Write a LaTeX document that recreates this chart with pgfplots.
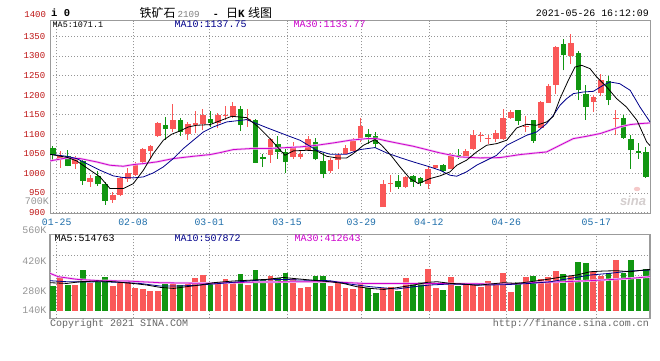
\documentclass[border=0pt]{standalone}
\usepackage{fontspec}
\usepackage{pgfplots}
\usepackage{pgfplotstable}
\pgfplotsset{compat=1.18}
\setmainfont{Liberation Mono}
\newfontfamily\mono{Liberation Mono}
\newfontfamily\cjk{Noto Sans CJK SC}
\newfontfamily\sans{Liberation Sans}
\definecolor{upred}{RGB}{250,88,88}
\definecolor{dngreen}{RGB}{17,150,17}
\definecolor{maten}{RGB}{0,0,140}
\definecolor{mathirty}{RGB}{204,0,204}
\definecolor{mahalo}{RGB}{242,190,242}
\definecolor{pricelbl}{RGB}{190,20,20}
\definecolor{datelbl}{RGB}{30,110,170}
\definecolor{gridc}{RGB}{150,150,150}
\definecolor{framec}{RGB}{155,155,155}
\definecolor{vollbl}{RGB}{150,150,150}
\definecolor{copyc}{RGB}{100,100,100}
\definecolor{sinaeye}{RGB}{245,200,200}
\definecolor{sinatext}{RGB}{212,206,206}

\pgfplotstableread{
i o h l c
1 1036 1057 1015 1044
3 1025 1044 1012 1040
5 978 995 966 988
8 933 953 925 946
9 946 991 942 987
10 985 1014 978 1000
11 997 1029 994 1025
12 1029 1065 1025 1061
13 1057 1072 1038 1069
14 1095 1131 1094 1129
16 1113 1176 1106 1136
18 1100 1130 1086 1125
19 1124 1159 1102 1128
20 1125 1164 1110 1148
22 1129 1153 1115 1150
23 1146 1171 1137 1149
24 1147 1182 1142 1171
26 1137 1165 1119 1140
29 1048 1091 1027 1089
32 1042 1079 1038 1066
33 1042 1057 1036 1049
34 1059 1095 1057 1087
37 1006 1040 1001 1035
38 1034 1052 1012 1048
39 1050 1072 1049 1065
40 1056 1091 1055 1085
41 1085 1142 1080 1120
44 914 984 914 972
45 973 995 953 976
47 966 993 963 991
50 972 1017 961 1012
51 1015 1022 1012 1021
53 1012 1051 1010 1045
55 1042 1063 1040 1057
56 1063 1110 1059 1097
57 1096 1106 1080 1099
58 1088 1097 1076 1091
59 1089 1110 1080 1102
60 1089 1164 1086 1142
61 1142 1161 1140 1157
63 1119 1146 1106 1122
65 1117 1185 1114 1182
66 1180 1228 1180 1222
67 1227 1325 1204 1323
69 1300 1355 1279 1334
72 1182 1199 1157 1195
73 1205 1253 1197 1239
75 1139 1161 1097 1142
}\redtab

\pgfplotstableread{
i o h l c
0 1066 1069 1035 1046
2 1044 1059 1018 1019
4 1031 1033 971 980
6 994 1005 968 972
7 974 978 920 930
15 1123 1144 1086 1113
17 1136 1142 1095 1106
21 1140 1159 1119 1129
25 1164 1171 1108 1123
27 1137 1140 1026 1027
28 1041 1050 1016 1038
30 1076 1095 1038 1055
31 1055 1063 1001 1029
35 1079 1091 1034 1036
36 1031 1051 987 998
42 1100 1114 1076 1093
43 1095 1106 1066 1074
46 980 997 960 964
48 993 995 966 979
49 987 990 968 975
52 1021 1025 1004 1006
54 1046 1063 1038 1043
62 1161 1161 1123 1134
64 1136 1136 1078 1083
68 1331 1344 1263 1302
70 1308 1312 1187 1212
71 1202 1225 1137 1170
74 1236 1248 1174 1188
76 1142 1148 1089 1091
77 1089 1097 1012 1059
78 1056 1078 1038 1053
79 1055 1068 989 991
}\greentab

\pgfplotstableread{
i v
1 342
3 306.6
5 317.4
8 302
9 317.4
10 330
11 294
12 288
13 280
14 280
16 320.6
18 316
19 340.7
20 353.3
22 314
23 334.6
24 322
26 306.6
29 350
32 332.8
33 292.6
34 297.3
37 302
38 318.8
39 292.6
40 288
41 311.3
44 290.8
45 298.7
47 337.5
50 381.3
51 292.6
53 342
55 314
56 314
57 297.3
58 325.3
59 317.4
60 364
61 275.4
63 342
65 334.6
66 342
67 372
69 348.6
72 368.7
73 348.6
75 424
}\redvol

\pgfplotstableread{
i v
0 302
2 306.6
4 376.6
6 322
7 344
15 320.6
17 306.6
21 314
25 358
27 376.6
28 330
30 337.5
31 364
35 348.6
36 348.6
42 290.8
43 270.7
46 280
48 314
49 318.8
52 283.3
54 302
62 318.8
64 348.6
68 358
70 414
71 409.3
74 364
76 364
77 423.3
78 336
79 381.3
}\greenvol

\pgfplotstableread{
i p
-0.36 1048.8
2.04 1040.3
3.19 1031.8
6.3 991
7.63 961.2
9.4 961.2
10.74 974
12.07 1008
13.4 1050.5
14.73 1084.6
15.84 1100
16.95 1108.4
18.06 1118.6
19.17 1122.9
20.95 1124.6
23.83 1145.8
25.83 1142.4
26.27 1135.6
27.38 1118.6
28.93 1088.8
30.93 1046.3
32.04 1057.4
33.82 1059
35.15 1057.4
36.48 1043.7
37.81 1039.5
39.15 1039.5
40.03 1050.5
41.37 1071.8
42.92 1086.3
43.81 1071.8
45.14 1043.7
46.25 1016.5
47.58 986.7
48.69 974
50.24 986.7
51.57 993.6
52.9 1003.8
53.8 1020.8
55.1 1033.5
56.45 1054.8
57.78 1071.8
59.12 1076
60.45 1084.6
61.78 1116
63.11 1125.4
64.44 1122.9
65.78 1131.4
66.67 1145.8
67.55 1190.9
68.66 1237.7
69.55 1271.7
70.44 1276
71.55 1267.5
72.44 1246.2
73.77 1220.7
75.1 1190.9
76.4 1169.6
77.8 1135.6
79.1 1080.3
79.54 1071
}\pmaA

\pgfplotstableread{
i p
-0.36 1048.8
1.86 1043.7
3.19 1037.8
4.52 1025
6.3 1008
8.07 993.6
9.4 989.3
10.74 988.5
12.07 991
13.4 1001.2
14.73 1016.5
16.06 1037.8
17.39 1063.3
18.73 1084.6
20.06 1105.8
21.39 1118.6
23.17 1131.4
25.83 1137.3
28.49 1116.9
31.16 1097.3
32.94 1084.6
35.15 1059
36.93 1048.9
39.15 1048.9
40.93 1060.8
42.92 1065.9
44.47 1052.3
46.25 1040.3
48.02 1029.3
50.24 1016.5
51.57 1008
52.9 995.3
53.8 992.7
55.1 1003.8
56.45 1020.8
57.78 1033.5
59.12 1046.3
60.45 1071.8
61.78 1084.6
63.11 1097.3
64.44 1105.8
65.78 1127.1
66.67 1148.4
67.55 1173.9
68.44 1190.9
69.33 1203.7
70.66 1207.9
72 1209.6
73.3 1225
74.2 1233.5
75.5 1229.2
76.9 1212.2
78.2 1169.6
79.54 1131.4
}\pmaB

\pgfplotstableread{
i p
-0.36 1031.8
1.86 1039.5
3.64 1037.8
5.85 1029.3
7.63 1020.8
9.4 1018.2
10.74 1022.5
12.07 1025
13.84 1029.3
16.06 1037.8
18.73 1043.7
20.94 1048
22.28 1053
24.05 1060.8
26.27 1063.3
28.49 1063.3
31.16 1065.9
32.94 1067.6
35.15 1071.8
37.37 1077.8
39.59 1084.6
41.81 1088.8
43.14 1088.8
44.47 1082.9
46.25 1076
48.02 1069.3
51.57 1052.3
54.23 1042
56.9 1039.5
59.56 1040.3
62.22 1048
64 1051.5
65.78 1054.8
67.55 1071.8
69.33 1088.8
71.11 1094.8
72.88 1101.6
74.2 1110
75.5 1118.6
76.9 1124.6
78.2 1127.1
79.54 1128.8
}\pmaC

\pgfplotstableread{
i v
-0.36 317.4
1.9 314
3.6 322
6.3 325.3
8.1 322
10.7 314
12.5 306.6
14.3 295.7
16.1 290.8
17.8 298.7
19.6 306.6
21.4 317.4
24 325.3
26.7 330
28.5 332.8
30.7 342
32 337.5
34.3 330
36.9 322
38.7 314
40.5 298.7
42.3 290.8
44.1 286
45.8 294
48.1 306.6
49.8 318.8
51.2 322
53 314
54.7 311.3
56.5 305
57.8 309.8
60.1 317.4
61.8 314
63.6 322
65.8 332.8
68 345.4
69.8 353.3
71.6 368.7
73.4 372
75.1 373.4
76.9 368.7
78.7 376.6
79.54 379.7
}\vmaA

\pgfplotstableread{
i v
-0.36 326.7
1.9 322
4.5 320.6
6.3 322
8.96 318.8
11.6 314
14.3 302
16.9 302
19.6 306.6
22.3 314
24.9 322
27.6 330
30.7 332.8
32.9 330
36.9 326.7
39.5 311.3
42.3 298.7
45.8 288
48.1 298.7
50.2 306.6
53 311.3
57.4 306.6
60.1 308
63.6 314
66.3 322
68.9 337.5
71.6 353.3
74.2 361.2
76.9 372
79.54 376.6
}\vmaB

\pgfplotstableread{
i v
-0.36 361.2
0.75 345.4
3.2 333.2
6.3 326.7
9.85 325.3
14.3 317.4
20.5 314.4
27.2 320.6
34.3 322
36.9 322
41.4 314
50.2 314
59.1 311.3
60.9 311.3
63.6 317.4
68 322
71.5 326.7
74.6 332.8
76.9 337.5
79.54 345.4
}\vmaC

\pgfplotsset{
  kgrid/.style={
    scale only axis, width=600pt,
    xmin=-0.36, xmax=79.54,
    axis line style={framec, line width=0.9pt},
    major tick length=0pt,
    xtick={0.53,10.7,20.85,31.2,41.1,50.1,60.4,72.4},
    grid=major,
    grid style={gridc, line width=0.75pt, dash pattern=on 1pt off 2pt},
    /pgf/number format/assume math mode=true,
    /pgf/number format/1000 sep={},
  },
  wick/.style={draw=none, mark=none, forget plot,
    error bars/.cd, y dir=plus, y explicit, error mark=none,
    error bar style={draw=#1, line width=1pt}},
  body/.style={draw=none, mark=none, forget plot,
    error bars/.cd, y dir=plus, y explicit, error mark=none,
    error bar style={draw=#1, line width=5.6pt}},
  vbar/.style={draw=none, mark=none, forget plot,
    error bars/.cd, y dir=plus, y explicit, error mark=none,
    error bar style={draw=#1, line width=5.8pt}},
}

\begin{document}
\begin{tikzpicture}[x=1pt,y=-1pt]
\useasboundingbox (0,0) rectangle (660,360);
\fill[white] (0,0) rectangle (660,360);

% price panel
\begin{axis}[kgrid, at={(50pt,-213.3pt)}, anchor=south west,
  height=192.6pt, ymin=898, ymax=1390,
  ytick={900,950,...,1350},
  xticklabels={01-25,02-08,03-01,03-15,03-29,04-12,04-26,05-17},
  xticklabel style={font=\fontsize{9.8}{10}\selectfont\mono, text=datelbl, anchor=base, yshift=-11.7pt},
  yticklabel style={font=\fontsize{9}{9}\selectfont\mono, text=pricelbl, anchor=east, xshift=-1.2pt},
]
\addplot[wick=upred] table[x=i, y=l, y error expr=\thisrow{h}-\thisrow{l}] {\redtab};
\addplot[body=upred] table[x=i, y=o, y error expr=\thisrow{c}-\thisrow{o}] {\redtab};
\addplot[wick=dngreen] table[x=i, y=l, y error expr=\thisrow{h}-\thisrow{l}] {\greentab};
\addplot[body=dngreen] table[x=i, y=c, y error expr=\thisrow{o}-\thisrow{c}] {\greentab};
\addplot[mahalo, line width=2.2pt, mark=none] table[x=i, y=p] {\pmaC};
\addplot[mathirty, line width=0.8pt, mark=none] table[x=i, y=p] {\pmaC};
\addplot[maten, line width=0.8pt, mark=none] table[x=i, y=p] {\pmaB};
\addplot[black, line width=0.8pt, mark=none] table[x=i, y=p] {\pmaA};
\end{axis}

% volume panel
\begin{axis}[kgrid, at={(50pt,-318.3pt)}, anchor=south west,
  height=84pt, ymin=151.2, ymax=543.3,
  ytick={260,353.3,446.7}, yticklabels={}, xticklabels={},
  axis line style={framec, line width=1.3pt},
]
\addplot[vbar=upred] table[x=i, y expr=186.7, y error expr=\thisrow{v}-186.7] {\redvol};
\addplot[vbar=dngreen] table[x=i, y expr=186.7, y error expr=\thisrow{v}-186.7] {\greenvol};
\addplot[mahalo, line width=2.2pt, mark=none] table[x=i, y=v] {\vmaC};
\addplot[mathirty, line width=0.8pt, mark=none] table[x=i, y=v] {\vmaC};
\addplot[maten, line width=0.8pt, mark=none] table[x=i, y=v] {\vmaB};
\addplot[black, line width=0.8pt, mark=none] table[x=i, y=v] {\vmaA};
\end{axis}

% header texts
\node[anchor=base west, inner sep=0, font=\fontsize{10.5}{11}\selectfont\mono\bfseries] at (51,16.7) {i 0};
\node[anchor=base west, inner sep=0, font=\fontsize{12}{12}\selectfont\cjk] at (139.5,17.2) {铁矿石};
\node[anchor=base west, inner sep=0, font=\fontsize{9.2}{10}\selectfont\mono, text=gray] at (177.3,17) {2109};
\node[anchor=base, inner sep=0, font=\fontsize{10}{10}\selectfont\mono\bfseries] at (215.8,17) {-};
\node[anchor=base west, inner sep=0, font=\fontsize{12}{12}\selectfont\cjk] at (226,17.2) {日};
\node[anchor=base west, inner sep=0, font=\fontsize{11}{12}\selectfont\mono\bfseries] at (238,17) {K};
\node[anchor=base west, inner sep=0, font=\fontsize{12}{12}\selectfont\cjk] at (248,17.2) {线图};
\node[anchor=base east, inner sep=0, font=\fontsize{9.9}{10}\selectfont\mono] at (649,16) {2021-05-26 16:12:09};

% MA labels price
\node[anchor=base west, inner sep=0, font=\fontsize{8.4}{9}\selectfont\mono] at (52.5,27.3) {MA5:1071.1};
\node[anchor=base west, inner sep=0, font=\fontsize{10}{10}\selectfont\mono, text=maten] at (174.3,27.3) {MA10:1137.75};
\node[anchor=base west, inner sep=0, font=\fontsize{10}{10}\selectfont\mono, text=mathirty] at (293.3,27.3) {MA30:1133.77};
\node[anchor=east, inner sep=0, font=\fontsize{9}{9}\selectfont\mono, text=pricelbl] at (46.2,15) {1400};
\node[anchor=east, inner sep=0, font=\fontsize{10}{10}\selectfont\mono, text=vollbl] at (49,201) {700K};

% MA labels volume
\node[anchor=base west, inner sep=0, font=\fontsize{10}{10}\selectfont\mono] at (54.3,241.7) {MA5:514763};
\node[anchor=base west, inner sep=0, font=\fontsize{10}{10}\selectfont\mono, text=maten] at (174.3,241.7) {MA10:507872};
\node[anchor=base west, inner sep=0, font=\fontsize{10}{10}\selectfont\mono, text=mathirty] at (294.3,241.7) {MA30:412643};

% volume axis labels
\node[anchor=east, inner sep=0, font=\fontsize{10}{10}\selectfont\mono, text=vollbl] at (46.7,230) {560K};
\node[anchor=east, inner sep=0, font=\fontsize{10}{10}\selectfont\mono, text=vollbl] at (46.7,260.7) {420K};
\node[anchor=east, inner sep=0, font=\fontsize{10}{10}\selectfont\mono, text=vollbl] at (46.7,290.7) {280K};
\node[anchor=east, inner sep=0, font=\fontsize{10}{10}\selectfont\mono, text=vollbl] at (46.7,310) {140K};

% footer
\node[anchor=base west, inner sep=0, font=\fontsize{10}{10}\selectfont\mono, text=copyc] at (50,326) {Copyright 2021 SINA.COM};
\node[anchor=base east, inner sep=0, font=\fontsize{10}{10}\selectfont\mono, text=copyc] at (649,326) {http://finance.sina.com.cn};

% sina watermark
\fill[sinaeye] (637,189) ellipse (3.2 and 2.2);
\node[anchor=base, inner sep=0, font=\fontsize{13}{13}\selectfont\sans\bfseries\itshape, text=sinatext] at (633,205) {sina};
\end{tikzpicture}
\end{document}
